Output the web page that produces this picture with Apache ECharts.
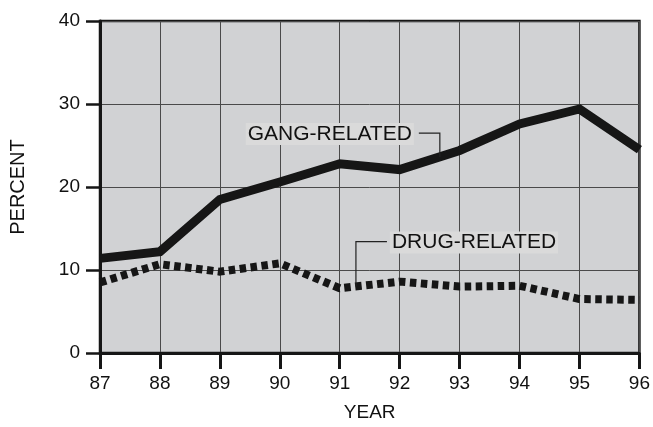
<!DOCTYPE html>
<html>
<head>
<meta charset="utf-8">
<script src="https://cdn.jsdelivr.net/npm/echarts@6/dist/echarts.min.js"></script>
<style>
  html, body { margin: 0; padding: 0; background: #ffffff; overflow: hidden; }
  #chart { width: 100vw; height: 100vh; }
</style>
</head>
<body>
<div id="chart"></div>
<script>
// Years on the horizontal axis (two-digit)
const years = [87, 88, 89, 90, 91, 92, 93, 94, 95, 96];
// Percent of incidents, by year
const gangRelated = [11.4, 12.2, 18.5, 20.6, 22.8, 22.1, 24.4, 27.6, 29.4, 24.5];
const drugRelated = [8.5, 10.7, 9.8, 10.8, 7.8, 8.6, 8.0, 8.1, 6.5, 6.4];
// Vertical axis range and step
const yMin = 0, yMax = 40, yStep = 10;

const FONT = 'Liberation Sans, Arial, sans-serif';
const INK = '#161616';

const pairs = (vals) => years.map((y, i) => [y, vals[i]]);

const chart = echarts.init(document.getElementById('chart'), null, { renderer: 'canvas' });

chart.setOption({
  animation: false,
  backgroundColor: '#ffffff',
  grid: {
    left: 97, right: 9, top: 21, bottom: 67,
    show: true,
    backgroundColor: '#d1d2d4',
    borderColor: INK,
    borderWidth: 2.5
  },
  xAxis: {
    type: 'value',
    min: years[0], max: years[years.length - 1], interval: 1,
    name: 'YEAR',
    nameLocation: 'middle',
    nameGap: 50,
    nameTextStyle: { fontFamily: FONT, fontSize: 19, color: '#111' },
    axisLine: { show: true, lineStyle: { color: INK, width: 3 } },
    axisTick: { show: true, length: 16, lineStyle: { color: INK, width: 3 } },
    axisLabel: { margin: 21, fontFamily: FONT, fontSize: 19, color: '#111', showMinLabel: true, showMaxLabel: true },
    splitLine: { show: true, lineStyle: { color: '#4a4a4a', width: 1 } }
  },
  yAxis: {
    type: 'value',
    min: yMin, max: yMax, interval: yStep,
    name: 'PERCENT',
    nameLocation: 'middle',
    nameRotate: 90,
    nameGap: 72,
    nameTextStyle: { fontFamily: FONT, fontSize: 20, color: '#111' },
    axisLine: { show: true, lineStyle: { color: INK, width: 3 } },
    axisTick: { show: true, length: 14, lineStyle: { color: INK, width: 2.5 } },
    axisLabel: { margin: 20, fontFamily: FONT, fontSize: 19, color: '#111' },
    splitLine: { show: true, lineStyle: { color: '#4a4a4a', width: 1 } }
  },
  series: [
    {
      name: 'DRUG-RELATED',
      type: 'line',
      data: pairs(drugRelated),
      symbol: 'none',
      z: 3,
      lineStyle: { color: INK, width: 8, type: [6.5, 4.5], cap: 'butt' }
    },
    {
      name: 'GANG-RELATED',
      type: 'line',
      data: pairs(gangRelated),
      symbol: 'none',
      z: 4,
      lineStyle: { color: INK, width: 9, cap: 'butt', join: 'miter' }
    }
  ]
});

// Callout labels with elbow leader lines, anchored on the lines in data space
function callout(text, anchor, rise, run, side) {
  const p = chart.convertToPixel({ gridIndex: 0 }, anchor);
  const ex = p[0], ey = p[1] - rise;
  const tx = side === 'left' ? ex - run : ex + run;
  return [
    {
      type: 'polyline',
      z: 10,
      shape: { points: [[p[0], p[1]], [ex, ey], [tx, ey]] },
      style: { stroke: '#222', lineWidth: 1.2, fill: null }
    },
    {
      type: 'text',
      z: 11,
      x: side === 'left' ? tx - 5 : tx + 3,
      y: ey + 1,
      style: {
        text: text,
        font: '21px ' + FONT,
        fill: '#111',
        align: side === 'left' ? 'right' : 'left',
        verticalAlign: 'middle',
        backgroundColor: '#dadada',
        padding: [1, 2, 0, 2]
      }
    }
  ];
}

const gangAnchor = [92.67, 23.6];
const drugAnchor = [91.27, 8.0];

chart.setOption({
  graphic: [].concat(
    callout('GANG-RELATED', gangAnchor, 24, 21, 'left'),
    callout('DRUG-RELATED', drugAnchor, 45, 31, 'right')
  )
});
</script>
</body>
</html>
